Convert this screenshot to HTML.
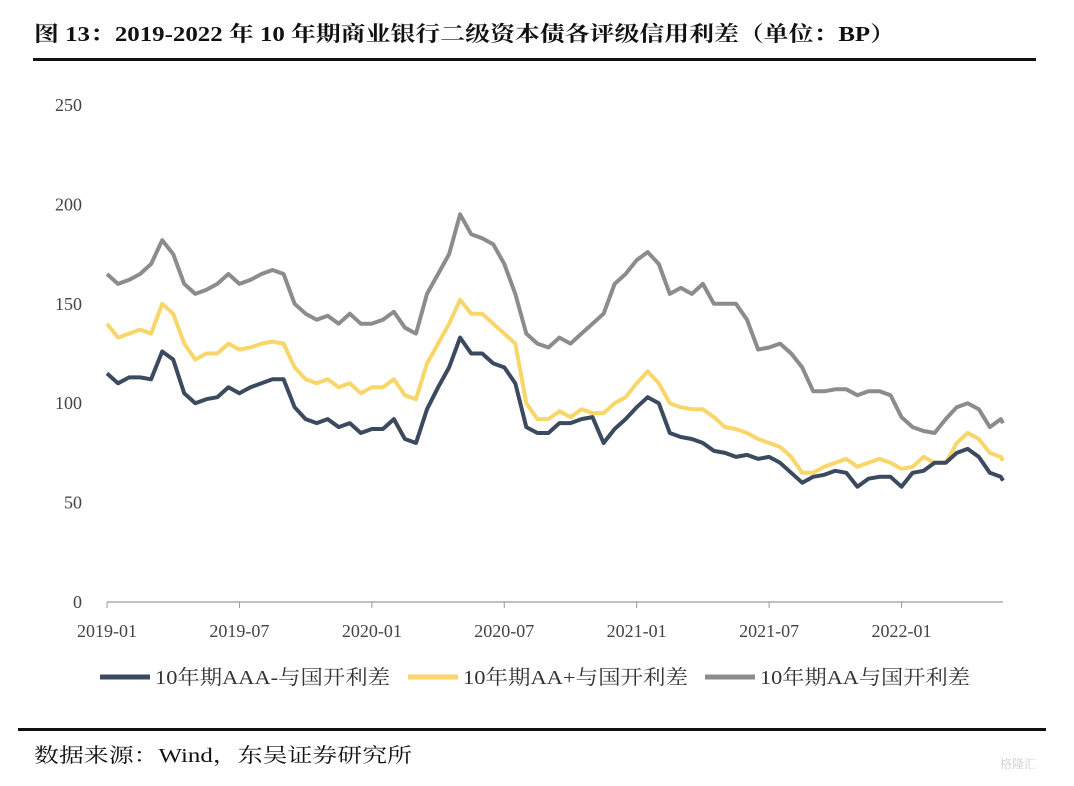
<!DOCTYPE html>
<html><head><meta charset="utf-8"><style>
body{margin:0;background:#fff;width:1074px;height:781px;overflow:hidden;font-family:"Liberation Serif","Noto Serif CJK SC",serif}
</style></head><body>
<svg width="1074" height="781" xmlns="http://www.w3.org/2000/svg">
<text x="34" y="41" font-size="21" font-weight="bold" fill="#111" textLength="861" lengthAdjust="spacingAndGlyphs" font-family="Liberation Serif, Noto Serif CJK SC, serif">图 13：2019-2022 年 10 年期商业银行二级资本债各评级信用利差（单位：BP）</text>
<rect x="33" y="58" width="1003" height="3" fill="#111"/>
<g id="yaxis"></g>
<g id="xaxis"></g>
<g id="series"></g>
<g font-size="20" fill="#333">
<g><line x1="100" y1="677" x2="150" y2="677" stroke="#3b4a5f" stroke-width="5"/><text x="155" y="684" textLength="235" lengthAdjust="spacingAndGlyphs">10年期AAA-与国开利差</text></g>
<g><line x1="408" y1="677" x2="458" y2="677" stroke="#f8d66a" stroke-width="5"/><text x="463" y="684" textLength="225" lengthAdjust="spacingAndGlyphs">10年期AA+与国开利差</text></g>
<g><line x1="705" y1="677" x2="755" y2="677" stroke="#8c8c8c" stroke-width="5"/><text x="760" y="684" textLength="210" lengthAdjust="spacingAndGlyphs">10年期AA与国开利差</text></g>
</g>
<rect x="18" y="728" width="1028" height="3" fill="#111"/>
<text x="34" y="762" font-size="20" fill="#111" textLength="378" lengthAdjust="spacingAndGlyphs">数据来源：Wind，东吴证券研究所</text>
<text x="1000" y="768" font-size="12" fill="#ccc">格隆汇</text>
</svg>
<script>
const yTicks=[0,50,100,150,200,250];
const xTickLabels=["2019-01","2019-07","2020-01","2020-07","2021-01","2021-07","2022-01"];
const xTickMonths=[0,6,12,18,24,30,36];
const stepMonths=0.5;
const seriesAAAminus=[115,110,113,113,112,126,122,105,100,102,103,108,105,108,110,112,112,98,92,90,92,88,90,85,87,87,92,82,80,97,108,118,133,125,125,120,118,110,88,85,85,90,90,92,93,80,87,92,98,103,100,85,83,82,80,76,75,73,74,72,73,70,65,60,63,64,66,65,58,62,63,63,58,65,66,70,70,75,77,73,65,63,61];
const seriesAAplus=[140,133,135,137,135,150,145,130,122,125,125,130,127,128,130,131,130,118,112,110,112,108,110,105,108,108,112,104,102,120,130,140,152,145,145,140,135,130,100,92,92,96,93,97,95,95,100,103,110,116,110,100,98,97,97,93,88,87,85,82,80,78,73,65,65,68,70,72,68,70,72,70,67,68,73,70,70,80,85,82,75,73,71];
const seriesAA=[165,160,162,165,170,182,175,160,155,157,160,165,160,162,165,167,165,150,145,142,144,140,145,140,140,142,146,138,135,155,165,175,195,185,183,180,170,155,135,130,128,133,130,135,140,145,160,165,172,176,170,155,158,155,160,150,150,150,142,127,128,130,125,118,106,106,107,107,104,106,106,104,93,88,86,85,92,98,100,97,88,92,90];
const NS="http://www.w3.org/2000/svg";
const x0=107,pxPerMonth=22.07,yBase=602,pxPerUnit=1.988;
const X=m=>x0+m*pxPerMonth, Y=v=>yBase-v*pxPerUnit;
const ya=document.getElementById('yaxis');
yTicks.forEach(v=>{const t=document.createElementNS(NS,'text');


t.setAttribute('x',82);t.setAttribute('y',Y(v)+6);t.setAttribute('text-anchor','end');t.setAttribute('font-size','18');t.setAttribute('fill','#444');t.textContent=v;ya.appendChild(t);});
const xa=document.getElementById('xaxis');
const ax=document.createElementNS(NS,'line');


ax.setAttribute('x1',x0);ax.setAttribute('x2',1003);ax.setAttribute('y1',yBase);ax.setAttribute('y2',yBase);ax.setAttribute('stroke','#999');ax.setAttribute('stroke-width','1.2');xa.appendChild(ax);
xTickMonths.forEach((m,i)=>{const tk=document.createElementNS(NS,'line');


tk.setAttribute('x1',X(m));tk.setAttribute('x2',X(m));tk.setAttribute('y1',yBase);tk.setAttribute('y2',yBase+6);tk.setAttribute('stroke','#999');xa.appendChild(tk);
const t=document.createElementNS(NS,'text');


t.setAttribute('x',X(m));t.setAttribute('y',637);t.setAttribute('text-anchor','middle');t.setAttribute('font-size','18');t.setAttribute('fill','#444');t.textContent=xTickLabels[i];xa.appendChild(t);});
const sg=document.getElementById('series');
[[seriesAA,'#8c8c8c','series-aa'],[seriesAAplus,'#f8d66a','series-aa-plus'],[seriesAAAminus,'#3b4a5f','series-aaa-minus']].forEach(([d,c,n])=>{
const p=document.createElementNS(NS,'polyline');


p.setAttribute('points',d.map((v,i)=>X(Math.min(i*stepMonths,40.6)).toFixed(1)+','+Y(v).toFixed(1)).join(' '));
p.setAttribute('fill','none');p.setAttribute('stroke',c);p.setAttribute('stroke-width','4');p.setAttribute('stroke-linejoin','round');sg.appendChild(p);});
</script>
</body></html>
